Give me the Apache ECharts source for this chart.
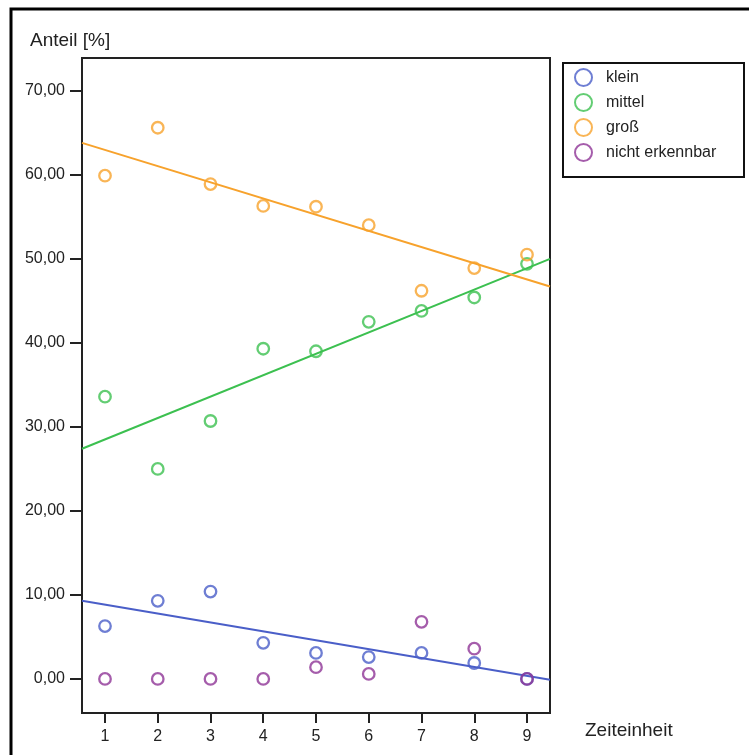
<!DOCTYPE html>
<html><head><meta charset="utf-8">
<script src="https://cdn.jsdelivr.net/npm/echarts@6/dist/echarts.min.js"></script>
<style>html,body{margin:0;padding:0;background:#fff}#c{width:749px;height:755px}</style>
</head><body><div id="c"></div>
<script>
// Data
const zeiteinheit = [1, 2, 3, 4, 5, 6, 7, 8, 9];
const yTicks = [0, 10, 20, 30, 40, 50, 60, 70];
const seriesNames = ['klein', 'mittel', 'groß', 'nicht erkennbar'];
const klein = [6.3, 9.3, 10.4, 4.3, 3.1, 2.6, 3.1, 1.9, 0.0];
const mittel = [33.6, 25.0, 30.7, 39.3, 39.0, 42.5, 43.8, 45.4, 49.4];
const gross = [59.9, 65.6, 58.9, 56.3, 56.2, 54.0, 46.2, 48.9, 50.5];
const nichtErkennbar = [0.0, 0.0, 0.0, 0.0, 1.4, 0.6, 6.8, 3.6, 0.0];
// fit lines: value at left and right edge of x range
const xRange = [0.564, 9.436];
const yRange = [-4.05, 73.9];
const fitKlein = [9.3, -0.1];
const fitMittel = [27.4, 50.0];
const fitGross = [63.8, 46.7];

const colors = { 'klein': '#4a5ec8', 'mittel': '#3cc050', 'groß': '#f7a22c', 'nicht erkennbar': '#8e3496' };
const font = 'Liberation Sans, Arial, sans-serif';

const chart = echarts.init(document.getElementById('c'), null, { renderer: 'canvas' });
function pts(vals) { return zeiteinheit.map((x, i) => [x, vals[i]]); }
function scatter(name, vals) {
  return {
    type: 'scatter', name: name, data: pts(vals), symbol: 'circle', symbolSize: 11.5,
    itemStyle: { color: 'rgba(255,255,255,0)', borderColor: colors[name], borderWidth: 2.3 },
    emphasis: { disabled: true }, z: 3
  };
}
function fit(name, v) {
  return {
    type: 'line', name: name + '_fit', data: [[xRange[0], v[0]], [xRange[1], v[1]]],
    symbol: 'none', lineStyle: { color: colors[name], width: 2 }, silent: true, z: 2
  };
}
const fmt = v => v.toFixed(2).replace('.', ',');
chart.setOption({
  animation: false,
  textStyle: { fontFamily: font },
  grid: { left: 82, top: 58, right: 199, bottom: 42, show: true, borderColor: '#222', borderWidth: 2, backgroundColor: '#fff' },
  xAxis: {
    type: 'value', min: xRange[0], max: xRange[1],
    axisLine: { show: true, onZero: false, lineStyle: { color: '#222', width: 2 } },
    axisTick: { show: true, length: 10, customValues: zeiteinheit, lineStyle: { color: '#222', width: 2 } },
    axisLabel: { customValues: zeiteinheit, margin: 16, color: '#222', fontSize: 16, fontFamily: font },
    splitLine: { show: false }
  },
  yAxis: {
    type: 'value', min: yRange[0], max: yRange[1],
    axisLine: { show: true, onZero: false, lineStyle: { color: '#222', width: 2 } },
    axisTick: { show: true, length: 12, customValues: yTicks, lineStyle: { color: '#222', width: 2 } },
    axisLabel: { customValues: yTicks, margin: 17, color: '#222', fontSize: 16, fontFamily: font, formatter: fmt },
    splitLine: { show: false }
  },
  legend: {
    left: 574, top: 68, padding: 0, orient: 'vertical', itemWidth: 17, itemHeight: 17, itemGap: 6,
    textStyle: { fontSize: 16, lineHeight: 17, color: '#222', fontFamily: font, padding: [0, 0, 0, 9] },
    data: seriesNames.map(n => ({ name: n, icon: 'circle', itemStyle: { color: 'rgba(255,255,255,0)', borderColor: colors[n], borderWidth: 2 } })),
    selectedMode: false
  },
  graphic: [
    { type: 'rect', shape: { x: 11, y: 9, width: 900, height: 900 }, style: { fill: 'none', stroke: '#000', lineWidth: 3 }, silent: true, z: -1 },
    { type: 'rect', shape: { x: 563, y: 63, width: 181, height: 114 }, style: { fill: 'none', stroke: '#111', lineWidth: 2 }, silent: true },
    { type: 'text', left: 30, top: 31, style: { text: 'Anteil [%]', font: '19px ' + font, fill: '#222' } },
    { type: 'text', left: 585, top: 721, style: { text: 'Zeiteinheit', font: '19px ' + font, fill: '#222' } }
  ],
  series: [
    fit('klein', fitKlein), fit('mittel', fitMittel), fit('groß', fitGross),
    scatter('klein', klein), scatter('mittel', mittel), scatter('groß', gross), scatter('nicht erkennbar', nichtErkennbar)
  ]
});
</script></body></html>
